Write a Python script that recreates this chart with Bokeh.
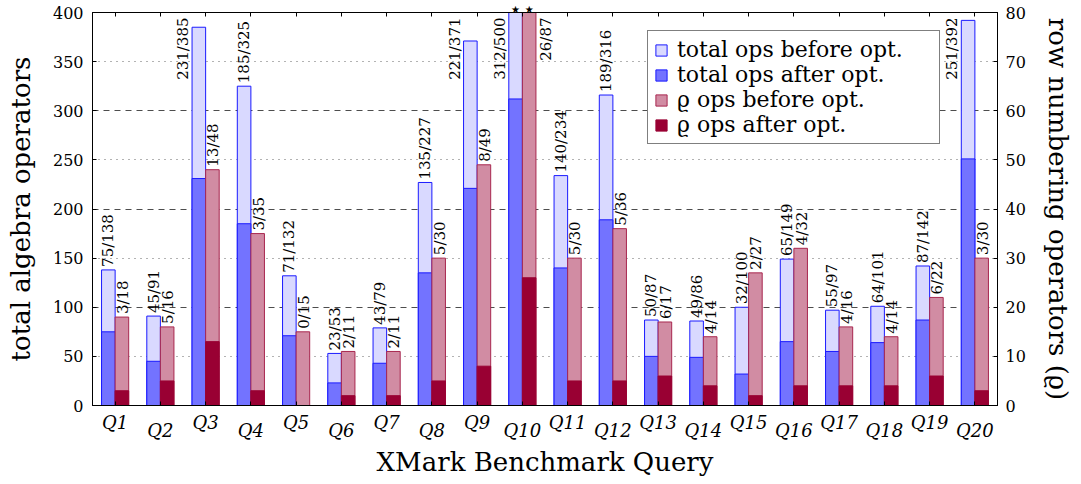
import numpy as np
from bokeh.plotting import figure
from bokeh.models import (ColumnDataSource, Range1d, LinearAxis, FixedTicker, Grid,
                          Legend, LegendItem)
from bokeh.core.properties import value
from bokeh.embed import file_html
from bokeh.resources import INLINE

# ---------------- data ----------------
queries = ["Q1", "Q2", "Q3", "Q4", "Q5", "Q6", "Q7", "Q8", "Q9", "Q10",
           "Q11", "Q12", "Q13", "Q14", "Q15", "Q16", "Q17", "Q18", "Q19", "Q20"]
total_before = [138, 91, 385, 325, 132, 53, 79, 227, 371, 500,
                234, 316, 87, 86, 100, 149, 97, 101, 142, 392]
total_after = [75, 45, 231, 185, 71, 23, 43, 135, 221, 312,
               140, 189, 50, 49, 32, 65, 55, 64, 87, 251]
rho_before = [18, 16, 48, 35, 15, 11, 11, 30, 49, 87,
              30, 36, 17, 14, 27, 32, 16, 14, 22, 30]
rho_after = [3, 5, 13, 3, 0, 2, 2, 5, 8, 26,
             5, 5, 6, 4, 2, 4, 4, 4, 6, 3]
left_ticks = [0, 50, 100, 150, 200, 250, 300, 350, 400]
right_ticks = [0, 10, 20, 30, 40, 50, 60, 70, 80]
major_grid = [100, 200, 300]
minor_grid = [50, 150, 250, 350]

LEFT_MAX = 400
RIGHT_MAX = 80

FONT = "DejaVu Serif"
BLUE_LIGHT = "#d9d9ff"
BLUE_DARK = "#7373ff"
BLUE_LINE = "#1a1aff"
RED_LIGHT = "#d18ca3"
RED_DARK = "#990033"
RED_LINE = "#a8274f"

n = len(queries)
xs = np.arange(1, n + 1)
bw = 0.3
xb = xs - bw / 2
xr = xs + bw / 2

src = ColumnDataSource(dict(xb=xb, xr=xr, tb=total_before, ta=total_after,
                            rb=rho_before, ra=rho_after))

p = figure(width=1075, height=481, output_backend="svg", toolbar_location=None,
           x_range=Range1d(0.5, n + 0.5), y_range=Range1d(0, LEFT_MAX),
           min_border_left=92, min_border_right=75, min_border_top=11,
           min_border_bottom=76, background_fill_color="white",
           border_fill_color="white")
p.extra_y_ranges = {"rho": Range1d(0, RIGHT_MAX)}

p.outline_line_color = "black"
p.outline_line_width = 1
p.xgrid.grid_line_color = None
p.ygrid.grid_line_color = None

p.add_layout(Grid(dimension=1, ticker=FixedTicker(ticks=major_grid),
                  grid_line_color="#4d4d4d", grid_line_dash="6 5", grid_line_width=1))
p.add_layout(Grid(dimension=1, ticker=FixedTicker(ticks=minor_grid),
                  grid_line_color="#666666", grid_line_dash="1 5", grid_line_width=1))

# bars
r_tb = p.vbar(x="xb", top="tb", width=bw, bottom=0, source=src,
              fill_color=BLUE_LIGHT, line_color=BLUE_LINE, line_width=1)
r_ta = p.vbar(x="xb", top="ta", width=bw, bottom=0, source=src,
              fill_color=BLUE_DARK, line_color=BLUE_LINE, line_width=1)
r_rb = p.vbar(x="xr", top="rb", width=bw, bottom=0, source=src, y_range_name="rho",
              fill_color=RED_LIGHT, line_color=RED_LINE, line_width=1)
r_ra = p.vbar(x="xr", top="ra", width=bw, bottom=0, source=src, y_range_name="rho",
              fill_color=RED_DARK, line_color=RED_DARK, line_width=1)

# value labels
lab_len_left = 70
lab_len_right = 13
ba = dict(x=[], y=[], t=[])
bs = dict(x=[], y=[], t=[])
ra_ = dict(x=[], y=[], t=[])
rs = dict(x=[], y=[], t=[])
star_pos = []
for i in range(n):
    t = f"{total_after[i]}/{total_before[i]}"
    if total_before[i] + lab_len_left > LEFT_MAX:
        bs["x"].append(xb[i] - bw / 2); bs["y"].append(LEFT_MAX); bs["t"].append(t)
    else:
        ba["x"].append(xb[i]); ba["y"].append(total_before[i]); ba["t"].append(t)
    t2 = f"{rho_after[i]}/{rho_before[i]}"
    if rho_before[i] + lab_len_right > RIGHT_MAX:
        rs["x"].append(xr[i] + bw / 2); rs["y"].append(RIGHT_MAX); rs["t"].append(t2)
    else:
        ra_["x"].append(xr[i]); ra_["y"].append(rho_before[i]); ra_["t"].append(t2)
    if total_before[i] > LEFT_MAX:
        star_pos.append(float(xb[i]))
    if rho_before[i] > RIGHT_MAX:
        star_pos.append(float(xr[i]))

tkw = dict(angle=np.pi / 2, text_font=value(FONT), text_font_size="15px",
           text_color="black", text_baseline="middle")
p.text(x="x", y="y", text="t", source=ColumnDataSource(ba), text_align="left",
       y_offset=-3, x_offset=0, **tkw)
p.text(x="x", y="y", text="t", source=ColumnDataSource(ra_), text_align="left",
       y_offset=-3, x_offset=1, y_range_name="rho", **tkw)
p.text(x="x", y="y", text="t", source=ColumnDataSource(bs), text_align="right",
       y_offset=5, x_offset=-9, **tkw)
p.text(x="x", y="y", text="t", source=ColumnDataSource(rs), text_align="right",
       y_offset=5, x_offset=10, y_range_name="rho", **tkw)


def style_axis(ax):
    ax.minor_tick_line_color = None
    ax.major_tick_in = 4
    ax.major_tick_out = 0
    ax.axis_line_color = "black"
    ax.major_tick_line_color = "black"
    ax.major_label_text_color = "black"
    ax.axis_label_text_color = "black"
    ax.axis_label_text_font = FONT
    ax.axis_label_text_font_size = "26px"
    ax.axis_label_text_font_style = "normal"
    ax.major_label_text_font = FONT


# bottom axis: odd category labels (higher row)
xa = p.xaxis[0]
style_axis(xa)
xa.ticker = FixedTicker(ticks=[float(v) for v in xs])
xa.major_label_overrides = {float(xs[i]): (queries[i] if i % 2 == 0 else "")
                            for i in range(n)}
xa.major_label_text_font_size = "18px"
xa.major_label_text_font_style = "italic"
xa.major_label_standoff = 6

# second bottom axis: even category labels (lower row) + axis title
xa2 = LinearAxis(ticker=FixedTicker(ticks=[float(xs[i]) for i in range(1, n, 2)]))
style_axis(xa2)
xa2.major_label_overrides = {float(xs[i]): queries[i] for i in range(1, n, 2)}
xa2.major_label_text_font_size = "18px"
xa2.major_label_text_font_style = "italic"
xa2.major_label_standoff = -16
xa2.axis_line_color = None
xa2.major_tick_line_color = None
xa2.major_tick_in = 0
xa2.axis_label = "XMark Benchmark Query"
xa2.axis_label_standoff = 3
p.add_layout(xa2, "below")

ya = p.yaxis[0]
style_axis(ya)
ya.ticker = FixedTicker(ticks=left_ticks)
ya.major_label_text_font_size = "16px"
ya.major_label_standoff = 9
ya.axis_label = "total algebra operators"
ya.axis_label_standoff = 14

ry = LinearAxis(y_range_name="rho", ticker=FixedTicker(ticks=right_ticks))
style_axis(ry)
ry.major_label_text_font_size = "16px"
ry.major_label_standoff = 8
ry.axis_label = "row numbering operators (\u03f1)"
ry.axis_label_standoff = 14
p.add_layout(ry, "right")

# top axis: inward ticks + clipped-bar stars
ta = LinearAxis(ticker=FixedTicker(ticks=[float(v) for v in xs]))
style_axis(ta)
ta.major_label_text_font_size = "0px"
ta.major_label_standoff = 0
p.add_layout(ta, "above")

sa = LinearAxis(ticker=FixedTicker(ticks=star_pos))
style_axis(sa)
sa.major_label_overrides = {v: "\u2605" for v in star_pos}
sa.major_label_text_font = "DejaVu Sans"
sa.major_label_text_font_size = "10px"
sa.major_label_standoff = -2
sa.axis_line_color = None
sa.major_tick_line_color = None
sa.major_tick_in = 0
p.add_layout(sa, "above")

legend = Legend(items=[
    LegendItem(label="total ops before opt.", renderers=[r_tb]),
    LegendItem(label="total ops after opt.", renderers=[r_ta]),
    LegendItem(label="\u03f1 ops before opt.", renderers=[r_rb]),
    LegendItem(label="\u03f1 ops after opt.", renderers=[r_ra]),
], location=(555, 261))
legend.label_text_font = FONT
legend.label_text_font_size = "22px"
legend.label_text_color = "black"
legend.glyph_width = 14
legend.glyph_height = 14
legend.label_height = 22
legend.label_width = 256
legend.label_standoff = 9
legend.spacing = 0
legend.padding = 6
legend.margin = 0
legend.border_line_color = "black"
legend.border_line_width = 1
legend.background_fill_alpha = 1
p.add_layout(legend, "center")

open("out.html", "w").write(file_html(p, INLINE))
